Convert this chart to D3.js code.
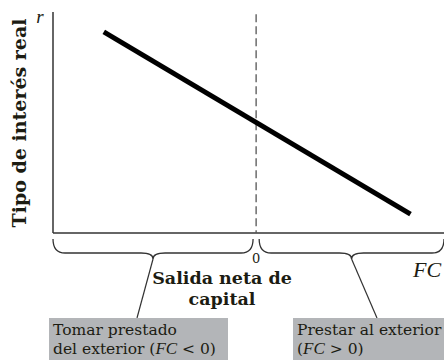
<!DOCTYPE html>
<html lang="en">
<head>
    <meta charset="utf-8">
    <script src="https://d3js.org/d3.v7.min.js"></script>
    <style>
        body { margin: 0; background: #fff; }
        text { font-family: "DejaVu Serif", serif; fill: #1c1c12; }
        .it { font-family: "Liberation Serif", "Times New Roman", serif; font-style: italic; }
    </style>
</head>
<body>
    <div id="graph"></div>
    <script>
        // data: capital outflow line (FC on x, r on y)
        var outflow = [-1.5, 1.52];
        var rate = [0.91, 0.085];
        var braceRanges = [[-2, -0.03], [0.03, 1.85]];
        var boxLines = [
            ["Tomar prestado", "del exterior (", "FC", " < 0)"],
            ["Prestar al exterior", "(", "FC", " > 0)"]
        ];

        var width = 444,
            height = 360;

        var svg = d3.select("#graph").append("svg")
            .attr("width", width)
            .attr("height", height);

        var x = d3.scaleLinear()
            .domain([-2, 1.85])
            .range([53, 444]);

        var y = d3.scaleLinear()
            .domain([0, 1])
            .range([233, 12]);

        // axes drawn as plain lines
        svg.append("line")
            .attr("x1", x(-2)).attr("x2", x(-2))
            .attr("y1", y(1)).attr("y2", y(0))
            .attr("stroke", "#333").attr("stroke-width", 1.5);

        svg.append("line")
            .attr("x1", x(-2)).attr("x2", x(1.85))
            .attr("y1", y(0)).attr("y2", y(0))
            .attr("stroke", "#333").attr("stroke-width", 1.5);

        // dashed zero line
        svg.append("line")
            .attr("x1", x(0)).attr("x2", x(0))
            .attr("y1", y(0.99)).attr("y2", y(0))
            .attr("stroke", "#555").attr("stroke-width", 1.3)
            .attr("stroke-dasharray", "8,4");

        // capital outflow line
        var line = d3.line()
            .x(d => x(d[0]))
            .y(d => y(d[1]));

        svg.append("path")
            .datum(d3.zip(outflow, rate))
            .attr("d", line)
            .attr("fill", "none")
            .attr("stroke", "#000")
            .attr("stroke-width", 5);

        // braces under the axis
        var by0 = 239, by1 = 253, by2 = 259, br = 12;
        function brace(a, b) {
            var x0 = x(a), x1 = x(b), xm = (x0 + x1) / 2;
            return "M" + x0 + "," + by0 +
                "Q" + x0 + "," + by1 + " " + (x0 + br) + "," + by1 +
                "L" + (xm - br) + "," + by1 +
                "Q" + xm + "," + by1 + " " + xm + "," + by2 +
                "Q" + xm + "," + by1 + " " + (xm + br) + "," + by1 +
                "L" + (x1 - br) + "," + by1 +
                "Q" + x1 + "," + by1 + " " + x1 + "," + by0;
        }

        svg.append("g")
            .selectAll("path")
            .data(braceRanges)
            .enter().append("path")
            .attr("d", d => brace(d[0], d[1]))
            .attr("fill", "none")
            .attr("stroke", "#333")
            .attr("stroke-width", 1.3);

        // leader lines from brace tips to the boxes
        var leaderEnds = [137, 377];
        svg.append("g")
            .selectAll("line")
            .data(braceRanges)
            .enter().append("line")
            .attr("x1", d => (x(d[0]) + x(d[1])) / 2)
            .attr("y1", by2)
            .attr("x2", (d, i) => leaderEnds[i])
            .attr("y2", 318)
            .attr("stroke", "#333")
            .attr("stroke-width", 1.2);

        // gray boxes
        var boxes = [{x: 49, w: 179}, {x: 293, w: 151}];
        svg.append("g")
            .selectAll("rect")
            .data(boxes)
            .enter().append("rect")
            .attr("x", d => d.x)
            .attr("y", 318)
            .attr("width", d => d.w)
            .attr("height", 42)
            .attr("fill", "#b3b5b8");

        boxes.forEach(function(b, i) {
            var lines = boxLines[i];
            svg.append("text")
                .attr("x", b.x + 4).attr("y", 335)
                .style("font-size", "15.5px")
                .text(lines[0]);
            var t = svg.append("text")
                .attr("x", b.x + 4).attr("y", 354)
                .style("font-size", "15.5px");
            t.append("tspan").text(lines[1]);
            t.append("tspan").attr("class", "it").style("font-size", "17px").text(lines[2]);
            t.append("tspan").text(lines[3]);
        });

        // axis labels
        svg.append("text")
            .attr("transform", "translate(26," + 123 + ") rotate(-90)")
            .attr("text-anchor", "middle")
            .style("font-size", "19px")
            .style("font-weight", "700")
            .text("Tipo de interés real");

        svg.append("text")
            .attr("class", "it")
            .attr("x", 40).attr("y", 23)
            .attr("text-anchor", "middle")
            .style("font-size", "19px")
            .text("r");

        svg.append("text")
            .attr("x", x(0)).attr("y", 263)
            .attr("text-anchor", "middle")
            .style("font-size", "13px")
            .text("0");

        svg.append("text")
            .attr("class", "it")
            .attr("x", 413).attr("y", 277)
            .style("font-size", "22px")
            .text("FC");

        svg.append("text")
            .attr("x", 222).attr("y", 284)
            .attr("text-anchor", "middle")
            .style("font-size", "17.5px")
            .style("font-weight", "700")
            .text("Salida neta de");

        svg.append("text")
            .attr("x", 222).attr("y", 305)
            .attr("text-anchor", "middle")
            .style("font-size", "17.5px")
            .style("font-weight", "700")
            .text("capital");
    </script>
</body>
</html>
